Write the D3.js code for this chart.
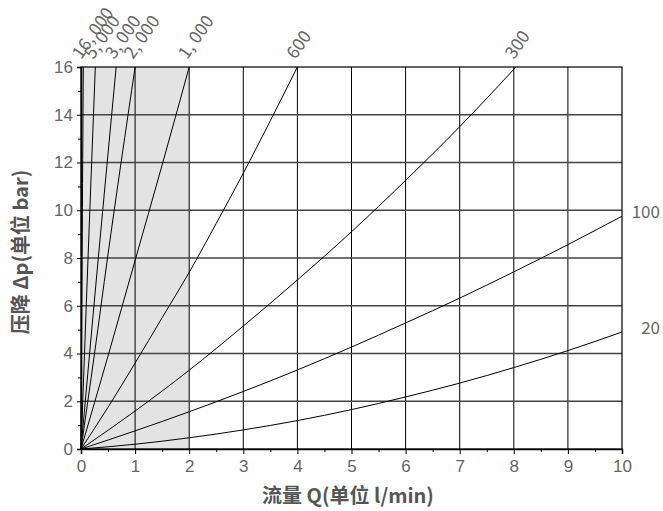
<!DOCTYPE html>
<html>
<head>
<meta charset="utf-8">
<script src="https://cdn.jsdelivr.net/npm/d3@7"></script>
<style>
  body { margin: 0; background: #fff; }
  svg { display: block; font-family: "Noto Sans CJK SC", "Noto Sans", sans-serif; }
  .tick text { fill: #666; font-size: 17px; }
  .tick line { stroke: #000; }
  .domain { stroke: #000; }
</style>
</head>
<body>
<script>
// Flow Q (l/min) vs pressure drop (bar), one curve per viscosity
var xTicks = [0, 1, 2, 3, 4, 5, 6, 7, 8, 9, 10];
var yTicks = [0, 2, 4, 6, 8, 10, 12, 14, 16];

var curveLabels = ["16,000", "5,000", "3,000", "2,000", "1,000", "600", "300", "100", "20"];
var curve16000 = [[0, 0], [0.02, 8], [0.043, 16]];
var curve5000 = [[0, 0], [0.13, 8], [0.265, 16]];
var curve3000 = [[0, 0], [0.32, 8], [0.65, 16]];
var curve2000 = [[0, 0], [0.25, 4], [0.49, 8], [1, 16]];
var curve1000 = [[0, 0], [0.5, 3.9], [1, 7.9], [1.5, 11.9], [2, 16]];
var curve600 = [[0, 0], [0.5, 1.75], [1, 3.6], [1.5, 5.5], [2, 7.4], [2.5, 9.45], [3, 11.55], [3.5, 13.75], [4, 16]];
var curve300 = [[0, 0], [1, 1.59], [2, 3.3], [3, 5.15], [4, 7.08], [5, 9.1], [6, 11.25], [7, 13.5], [8.04, 16]];
var curve100 = [[0, 0], [1, 0.76], [2, 1.56], [3, 2.41], [4, 3.31], [5, 4.27], [6, 5.28], [7, 6.32], [8, 7.42], [9, 8.56], [10, 9.75]];
var curve20 = [[0, 0], [1, 0.2], [2, 0.47], [3, 0.8], [4, 1.19], [5, 1.65], [6, 2.18], [7, 2.76], [8, 3.41], [9, 4.12], [10, 4.9]];
var curves = [curve16000, curve5000, curve3000, curve2000, curve1000, curve600, curve300, curve100, curve20];

var shadeRange = [0, 2];

var xTitle = "流量 Q(单位 l/min)";
var yTitle = "压降 Δp(单位 bar)";

// Setup the svg element size and margins
var margin = {top: 67, right: 41, bottom: 62, left: 81},
    width = 663 - margin.left - margin.right,
    height = 511 - margin.top - margin.bottom;

var svg = d3.select(document.body).append("svg")
  .attr("width", 663)
  .attr("height", 511);

var g = svg.append("g").attr("transform", "translate(" + margin.left + "," + margin.top + ")");

var x = d3.scaleLinear().domain([0, 10]).range([0, width]);
var y = d3.scaleLinear().domain([0, 16]).range([height, 0]);

// grey band for the high viscosity zone
g.append("rect")
  .attr("x", x(shadeRange[0]))
  .attr("y", 0)
  .attr("width", x(shadeRange[1]) - x(shadeRange[0]))
  .attr("height", height)
  .attr("fill", "#e3e3e3");

// grid
g.append("g").selectAll("line")
  .data(xTicks.slice(1, -1))
  .enter().append("line")
  .attr("x1", function(d) { return x(d); })
  .attr("x2", function(d) { return x(d); })
  .attr("y1", 0)
  .attr("y2", height)
  .attr("stroke", "#000")
  .attr("stroke-width", 1);

g.append("g").selectAll("line")
  .data(yTicks.slice(1, -1))
  .enter().append("line")
  .attr("x1", 0)
  .attr("x2", width)
  .attr("y1", function(d) { return y(d); })
  .attr("y2", function(d) { return y(d); })
  .attr("stroke", "#444")
  .attr("stroke-width", 1.3);

// curves
var line = d3.line()
  .x(function(d) { return x(d[0]); })
  .y(function(d) { return y(d[1]); })
  .curve(d3.curveMonotoneX);

g.append("g").selectAll("path")
  .data(curves)
  .enter().append("path")
  .attr("d", line)
  .attr("fill", "none")
  .attr("stroke", "#000")
  .attr("stroke-width", 1);

// frame
g.append("rect")
  .attr("width", width)
  .attr("height", height)
  .attr("fill", "none")
  .attr("stroke", "#000")
  .attr("stroke-width", 1.2);

// axes (major + minor ticks)
var xAxis = g.append("g")
  .attr("transform", "translate(0," + height + ")")
  .call(d3.axisBottom(x).tickValues(xTicks).tickSize(5).tickPadding(6).tickFormat(d3.format("d")));
xAxis.select(".domain").attr("stroke-width", 1.5);

g.append("g")
  .attr("transform", "translate(0," + height + ")")
  .call(d3.axisBottom(x).tickValues(d3.range(0.5, 10, 1)).tickSize(3).tickFormat(""))
  .select(".domain").remove();

var yAxis = g.append("g")
  .call(d3.axisLeft(y).tickValues(yTicks).tickSize(4).tickPadding(4).tickFormat(d3.format("d")));
yAxis.select(".domain").attr("stroke-width", 1.5);

g.append("g")
  .call(d3.axisLeft(y).tickValues(d3.range(1, 16, 2)).tickSize(3).tickFormat(""))
  .select(".domain").remove();

// curve labels: on top for curves reaching 16 bar, at the right otherwise
curves.forEach(function(c, i) {
  var last = c[c.length - 1];
  if (last[1] >= 16) {
    var lx = x(last[0]) - 2, ly = -7;
    var t = g.append("text")
      .attr("transform", "translate(" + lx + "," + ly + ") rotate(-55)")
      .attr("fill", "#666")
      .attr("font-size", 17.5);
    var parts = curveLabels[i].split(",");
    if (parts.length > 1) {
      t.append("tspan").text(parts[0] + ",");
      t.append("tspan").attr("dx", 4).text(parts[1]);
    } else {
      t.text(curveLabels[i]);
    }
  } else {
    g.append("text")
      .attr("x", 660 - margin.left)
      .attr("y", y(last[1]) - 3)
      .attr("text-anchor", "end")
      .attr("dominant-baseline", "middle")
      .attr("fill", "#666")
      .attr("font-size", 17)
      .text(curveLabels[i]);
  }
});

// axis titles
svg.append("text")
  .attr("x", 348)
  .attr("y", 503)
  .attr("text-anchor", "middle")
  .attr("fill", "#555")
  .attr("font-size", 20)
  .attr("font-weight", "bold")
  .text(xTitle);

svg.append("text")
  .attr("transform", "translate(28,252) rotate(-90)")
  .attr("text-anchor", "middle")
  .attr("fill", "#555")
  .attr("font-size", 20)
  .attr("font-weight", "bold")
  .text(yTitle);
</script>
</body>
</html>
